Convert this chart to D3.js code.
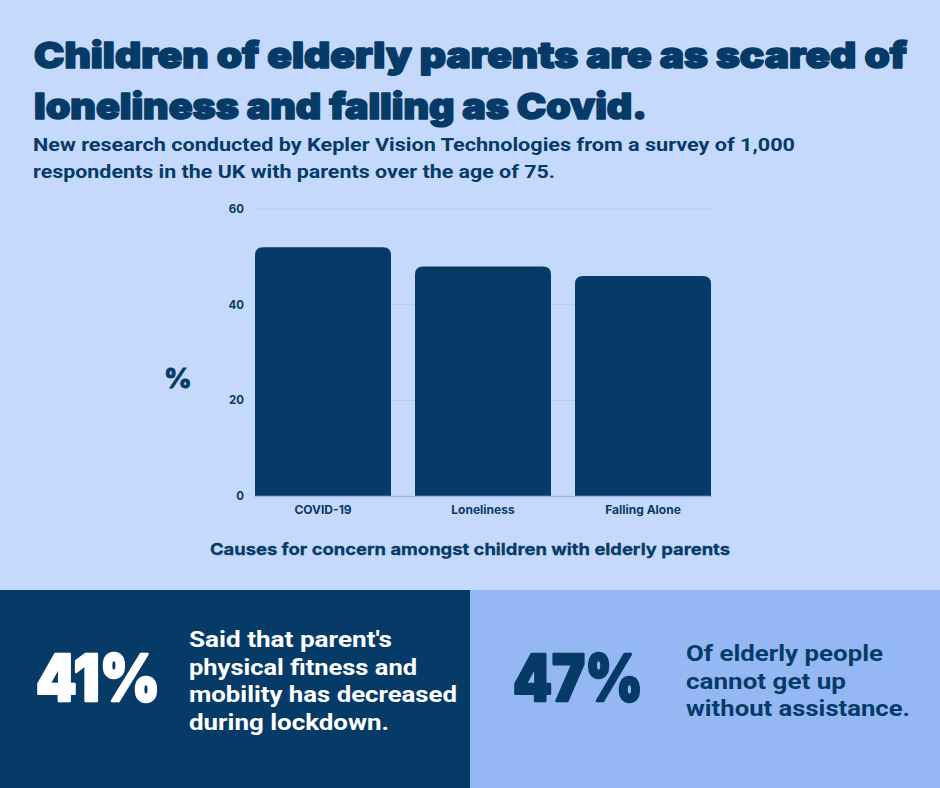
<!DOCTYPE html>
<html>
<head>
<meta charset="utf-8">
<script src="https://cdn.jsdelivr.net/npm/d3@7"></script>
<style>
  html, body { margin: 0; padding: 0; background: #c5d9fc; }
  svg { display: block; }
</style>
</head>
<body>
<div class="svg-container"></div>
<script>
// chart data
var categories = ["COVID-19", "Loneliness", "Falling Alone"];
var values = [52, 48, 46];
var y_ticks = [0, 20, 40, 60];

var title_lines = ["Children of elderly parents are as scared of",
                   "loneliness and falling as Covid."];
var subtitle_lines = ["New research conducted by Kepler Vision Technologies from a survey of 1,000",
                      "respondents in the UK with parents over the age of 75."];
var caption = "Causes for concern amongst children with elderly parents";

var stat_left = "41%";
var stat_left_lines = ["Said that parent's", "physical fitness and", "mobility has decreased", "during lockdown."];
var stat_right = "47%";
var stat_right_lines = ["Of elderly people", "cannot get up", "without assistance."];

var fullWidth = 940,
    fullHeight = 788;

var dark = "#073b67",
    bg = "#c5d9fc",
    light = "#95b8f5";

var svg = d3.select(".svg-container")
    .append("svg")
    .attr("width", fullWidth)
    .attr("height", fullHeight);

svg.append("rect")
    .attr("width", fullWidth)
    .attr("height", fullHeight)
    .attr("fill", bg);

// title block
var title_widths = [873, 613];
svg.selectAll(".title")
    .data(title_lines)
    .enter()
    .append("text")
    .attr("class", "title")
    .attr("x", 34)
    .attr("y", (d, i) => 68 + i * 51)
    .attr("textLength", (d, i) => title_widths[i])
    .attr("lengthAdjust", "spacingAndGlyphs")
    .style("font-family", "Inter")
    .style("font-weight", 900)
    .style("font-size", "36px")
    .attr("fill", dark)
    .attr("stroke", dark)
    .attr("stroke-width", 1.6)
    .attr("stroke-linejoin", "round")
    .text(d => d);

var subtitle_widths = [762, 522];
svg.selectAll(".subtitle")
    .data(subtitle_lines)
    .enter()
    .append("text")
    .attr("class", "subtitle")
    .attr("x", 33)
    .attr("y", (d, i) => 151 + i * 27)
    .attr("textLength", (d, i) => subtitle_widths[i])
    .attr("lengthAdjust", "spacingAndGlyphs")
    .style("font-family", "Roboto")
    .style("font-weight", 700)
    .style("font-size", "17.5px")
    .attr("fill", dark)
    .text(d => d);

// bar chart
var x = d3.scaleBand()
    .domain(categories)
    .range([255, 711])
    .paddingInner(0.15)
    .paddingOuter(0);

var y = d3.scaleLinear()
    .domain([0, 60])
    .range([496, 209]);

// gridlines
svg.append("g")
    .selectAll("line")
    .data(y_ticks.filter(d => d > 0))
    .enter()
    .append("line")
    .attr("x1", 255)
    .attr("x2", 712)
    .attr("y1", d => y(d))
    .attr("y2", d => y(d))
    .attr("stroke", "#b3cbf0")
    .attr("stroke-width", 1);

// y tick labels
svg.append("g")
    .selectAll("text")
    .data(y_ticks)
    .enter()
    .append("text")
    .attr("x", 244)
    .attr("y", d => y(d) + 4)
    .attr("text-anchor", "end")
    .style("font-family", "Inter")
    .style("font-weight", 700)
    .style("font-size", "11.5px")
    .attr("fill", dark)
    .text(d => d);

// bars with rounded top corners
var r = 8;
function bar_path(d, i) {
    var x0 = x(categories[i]), x1 = x0 + x.bandwidth();
    var y0 = y(0), y1 = y(d);
    return "M" + x0 + "," + y0 +
        "V" + (y1 + r) +
        "Q" + x0 + "," + y1 + " " + (x0 + r) + "," + y1 +
        "H" + (x1 - r) +
        "Q" + x1 + "," + y1 + " " + x1 + "," + (y1 + r) +
        "V" + y0 + "Z";
}

svg.append("g")
    .selectAll("path")
    .data(values)
    .enter()
    .append("path")
    .attr("d", bar_path)
    .attr("fill", dark);

// baseline
svg.append("line")
    .attr("x1", 255)
    .attr("x2", 712)
    .attr("y1", y(0) + 0.5)
    .attr("y2", y(0) + 0.5)
    .attr("stroke", "#9db5de")
    .attr("stroke-width", 1.5);

// category labels
svg.append("g")
    .selectAll("text")
    .data(categories)
    .enter()
    .append("text")
    .attr("x", d => x(d) + x.bandwidth() / 2)
    .attr("y", 514)
    .attr("text-anchor", "middle")
    .style("font-family", "Inter")
    .style("font-weight", 700)
    .style("font-size", "12px")
    .attr("fill", dark)
    .text(d => d);

// y axis label
svg.append("text")
    .attr("x", 178)
    .attr("y", 388)
    .attr("text-anchor", "middle")
    .style("font-family", "Inter")
    .style("font-weight", 800)
    .style("font-size", "27px")
    .attr("fill", dark)
    .attr("stroke", dark)
    .attr("stroke-width", 0.8)
    .text("%");

// caption
svg.append("text")
    .attr("x", 470)
    .attr("y", 555)
    .attr("text-anchor", "middle")
    .attr("textLength", 520)
    .attr("lengthAdjust", "spacingAndGlyphs")
    .style("font-family", "Inter")
    .style("font-weight", 700)
    .style("font-size", "16px")
    .attr("fill", dark)
    .attr("stroke", dark)
    .attr("stroke-width", 0.3)
    .text(caption);

// bottom panels
svg.append("rect")
    .attr("x", 0).attr("y", 590)
    .attr("width", 470).attr("height", fullHeight - 590)
    .attr("fill", dark);

svg.append("rect")
    .attr("x", 470).attr("y", 590)
    .attr("width", fullWidth - 470).attr("height", fullHeight - 590)
    .attr("fill", light);

function big_stat(txt, x0, width, color) {
    svg.append("text")
        .attr("x", x0)
        .attr("y", 701)
        .attr("textLength", width)
        .attr("lengthAdjust", "spacingAndGlyphs")
        .style("font-family", "Inter")
        .style("font-weight", 900)
        .style("font-size", "64px")
        .attr("fill", color)
        .attr("stroke", color)
        .attr("stroke-width", 2.5)
        .attr("stroke-linejoin", "round")
        .text(txt);
}

big_stat(stat_left, 36, 124, "#ffffff");
big_stat(stat_right, 513, 130, dark);

var left_widths = [203, 228, 268, 200];
svg.append("g")
    .selectAll("text")
    .data(stat_left_lines)
    .enter()
    .append("text")
    .attr("x", 189)
    .attr("y", (d, i) => 647 + i * 27.5)
    .attr("textLength", (d, i) => left_widths[i])
    .attr("lengthAdjust", "spacingAndGlyphs")
    .style("font-family", "Roboto")
    .style("font-weight", 700)
    .style("font-size", "21.5px")
    .attr("fill", "#ffffff")
    .text(d => d);

var right_widths = [197, 160, 224];
svg.append("g")
    .selectAll("text")
    .data(stat_right_lines)
    .enter()
    .append("text")
    .attr("x", 686)
    .attr("y", (d, i) => 661 + i * 27.5)
    .attr("textLength", (d, i) => right_widths[i])
    .attr("lengthAdjust", "spacingAndGlyphs")
    .style("font-family", "Roboto")
    .style("font-weight", 700)
    .style("font-size", "21.5px")
    .attr("fill", dark)
    .text(d => d);
</script>
</body>
</html>
